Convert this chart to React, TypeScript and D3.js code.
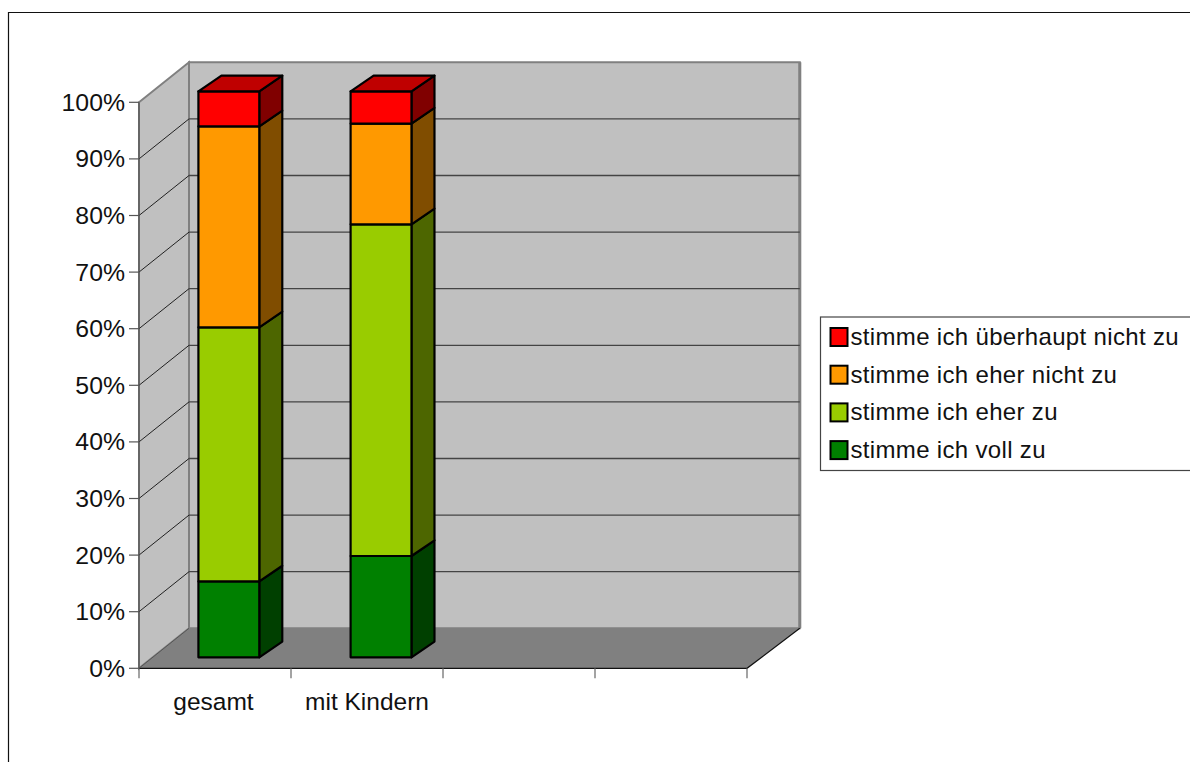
import React from "react";
import * as d3 from "d3";

const categories = ["gesamt", "mit Kindern", "", ""];
const seriesNames = ["stimme ich voll zu", "stimme ich eher zu", "stimme ich eher nicht zu", "stimme ich überhaupt nicht zu"];
const seriesColors = ["#008000", "#99cc00", "#ff9900", "#ff0000"];
const gesamtValues = [13.4, 44.9, 35.5, 6.2];
const kinderValues = [17.9, 58.6, 17.8, 5.7];
const barValues = [gesamtValues, kinderValues];
const yTicks = [0, 10, 20, 30, 40, 50, 60, 70, 80, 90, 100];

const x = d3.scaleBand<string>().domain(categories.map((c, i) => c + i)).range([139, 747]);
const y = d3.scaleLinear().domain([0, 100]).range([668.3, 102.3]);
const depthX = d3.scaleLinear().domain([139, 747]).range([50, 52.8]);
const DY = -40;
const Z1 = 0.275;
const BAR = 0.4;
const BAR_DX = 23;
const BAR_DY = -15.7;

const P = (px: number, py: number, z: number): [number, number] => [px + depthX(px) * z, py + DY * z];
const poly = (pts: [number, number][]) => d3.line()(pts)! + "Z";
const shade = (c: string, k: number) => {
  const r = d3.rgb(c);
  return d3.rgb(r.r * k, r.g * k, r.b * k).formatHex();
};
const back = (p: [number, number]): [number, number] => [p[0] + BAR_DX, p[1] + BAR_DY];

const FONT = "'Liberation Sans', Arial, sans-serif";

export default function App() {
  const x0 = 139, x1 = 747, y0 = y(0), y100 = y(100);
  const bw = x.bandwidth();
  return (
    <svg width={1190} height={762} style={{ position: "absolute", left: 0, top: 0, display: "block" }} fontFamily={FONT}>
      <rect width={1190} height={762} fill="#fff" />
      <path d="M8.5 770V12.5H1200" fill="none" stroke="#111" strokeWidth={1.2} />

      {/* walls */}
      <path d={poly([P(x0, y100, 1), P(x1, y100, 1), P(x1, y0, 1), P(x0, y0, 1)])} fill="#c0c0c0" stroke="#808080" strokeWidth={2} />
      <path d={poly([P(x0, y100, 0), P(x0, y100, 1), P(x0, y0, 1), P(x0, y0, 0)])} fill="#c0c0c0" stroke="#808080" strokeWidth={2} />
      <path d={poly([P(x0, y0, 0), P(x1, y0, 0), P(x1, y0, 1), P(x0, y0, 1)])} fill="#808080" />
      <path d={d3.line()([P(x1, y100, 1), P(x1, y0, 1)])!} stroke="#808080" strokeWidth={3} />

      {/* gridlines */}
      {yTicks.filter(t => t > 0 && t < 100).map(t => (
        <g key={t}>
          <path d={d3.line()([P(x0, y(t), 1), P(x1, y(t), 1)])!} stroke="#444" strokeWidth={1.3} />
          <path d={d3.line()([P(x0, y(t), 0), P(x0, y(t), 1)])!} stroke="#222" strokeWidth={1} />
        </g>
      ))}

      {/* axes */}
      <path d={d3.line()([[x0, y100], [x0, y0]])!} stroke="#555" strokeWidth={1.2} />
      <path d={d3.line()([[x0, y0], [x1, y0], P(x1, y0, 1)])!} fill="none" stroke="#111" strokeWidth={1.2} />
      <path d={d3.line()([P(x0, y0, 0), P(x0, y0, 1)])!} stroke="#555" strokeWidth={1} />
      {yTicks.map(t => (
        <g key={t}>
          <path d={d3.line()([[x0 - 10, y(t)], [x0, y(t)]])!} stroke="#555" strokeWidth={1.2} />
          <text x={125} y={y(t) + 8.5} fontSize={24.8} textAnchor="end" fill="#111">{t}%</text>
        </g>
      ))}
      {[...x.domain().map(d => x(d)!), x1].map((p, i) => (
        <path key={i} d={d3.line()([[p, y0], [p, y0 + 10]])!} stroke="#666" strokeWidth={1.2} />
      ))}
      {categories.map((c, i) => (
        <text key={i} x={x(c + i)! + bw / 2 - (i === 0 ? 1.5 : 0)} y={710} fontSize={24.5} textAnchor="middle" fill="#111">{c}</text>
      ))}

      {/* bars */}
      {barValues.map((vals, b) => {
        const key = categories[b] + b;
        const left = x(key)! + bw * (1 - BAR) / 2;
        const right = left + bw * BAR;
        const cum = d3.cumsum(vals);
        return (
          <g key={b} stroke="#000" strokeWidth={2.2} strokeLinejoin="round">
            {vals.map((v, i) => {
              const lo = y(i === 0 ? 0 : cum[i - 1]);
              const hi = y(cum[i]);
              const col = seriesColors[i];
              return (
                <g key={i}>
                  <path d={poly([P(right, lo, Z1), back(P(right, lo, Z1)), back(P(right, hi, Z1)), P(right, hi, Z1)])} fill={shade(col, 0.5)} />
                  <path d={poly([P(left, lo, Z1), P(right, lo, Z1), P(right, hi, Z1), P(left, hi, Z1)])} fill={col} />
                  {i === vals.length - 1 && (
                    <path d={poly([P(left, hi, Z1), P(right, hi, Z1), back(P(right, hi, Z1)), back(P(left, hi, Z1))])} fill={shade(col, 0.75)} />
                  )}
                </g>
              );
            })}
          </g>
        );
      })}

      {/* legend */}
      <rect x={820.5} y={317} width={380} height={153.5} fill="#fff" stroke="#444" strokeWidth={1.2} />
      {[...seriesNames].reverse().map((n, i) => {
        const cy = 337 + i * 37.7;
        return (
          <g key={n}>
            <rect x={830.5} y={cy - 9} width={17} height={18} fill={seriesColors[3 - i]} stroke="#000" strokeWidth={2} />
            <text x={850.5} y={cy + 8} fontSize={24} letterSpacing={0.33} fill="#111">{n}</text>
          </g>
        );
      })}
    </svg>
  );
}
